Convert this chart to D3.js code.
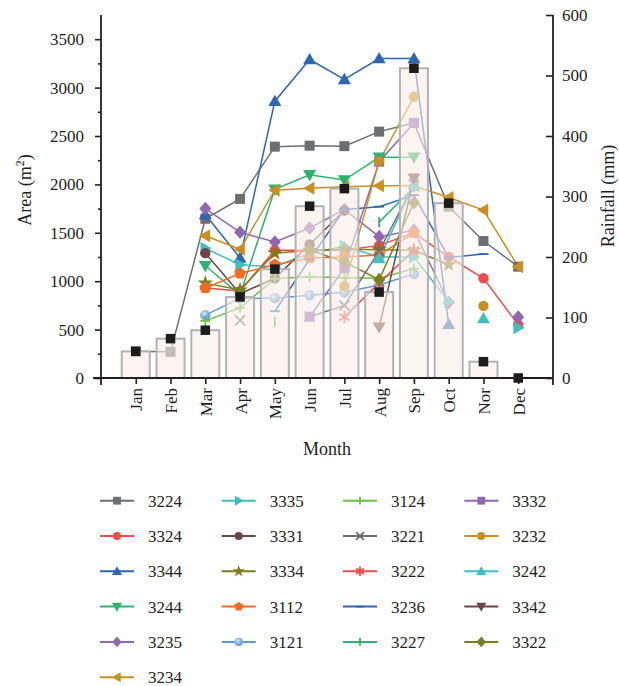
<!DOCTYPE html>
<html>
<head>
<meta charset="utf-8">
<script src="https://cdn.jsdelivr.net/npm/d3@7"></script>
<style>
  body { margin: 0; background: #fff; }
  svg text { font-family: "Liberation Serif", "DejaVu Serif", serif; fill: #231f20; }
</style>
</head>
<body>
<script>
// months on the x axis (the source labels November as "Nor")
const months = ["Jan", "Feb", "Mar", "Apr", "May", "Jun", "Jul", "Aug", "Sep", "Oct", "Nor", "Dec"];
const rainfall = [44, 65, 79, 134, 180, 284, 313, 142, 512, 289, 27, 0];

const areaTicks = [0, 500, 1000, 1500, 2000, 2500, 3000, 3500];
const rainTicks = [0, 100, 200, 300, 400, 500, 600];

// area values per pond, Jan..Dec (null = not recorded)
const s3224 = [275, 270, 1645, 1850, 2390, 2400, 2395, 2545, 2635, 1770, 1415, 1150];
const s3324 = [null, null, 930, 900, 1320, 1320, 1320, 1370, 1500, 1250, 1030, 550];
const s3344 = [null, null, 1690, 1240, 2860, 3290, 3085, 3300, 3300, 555, null, null];
const s3244 = [null, null, 1160, 860, 1950, 2100, 2045, 2280, 2280, null, null, null];
const s3235 = [null, null, 1750, 1505, 1405, 1550, 1740, 1460, 1525, 780, null, 630];
const s3234 = [null, null, 1470, 1330, 1940, 1960, 1975, 1985, 1985, 1865, 1735, 1150];
const s3335 = [null, null, 1340, 1170, 1150, 1290, 1360, 1250, 1250, 790, null, 520];
const s3331 = [null, null, 1290, 870, 1030, 1380, 1730, null, null, null, null, null];
const s3334 = [null, null, 980, 910, 1290, 1320, 1330, 1325, 1320, 1170, null, null];
const s3112 = [null, null, 930, 1080, 1170, 1240, 1250, 1270, 1500, null, null, null];
const s3121 = [null, null, 650, 825, 825, 855, 885, 960, 1075, null, null, null];
const s3124 = [null, null, 590, 725, 1025, 1045, 1035, 1030, 1130, null, null, null];
const s3221 = [null, null, null, 595, null, 633, 750, 1310, 2000, null, null, null];
const s3222 = [null, null, null, null, null, null, 630, 980, 1320, null, null, null];
const s3236 = [null, null, null, null, 690, 1225, 1740, 1770, 1890, 1245, 1280, null];
const s3227 = [null, null, null, null, 580, null, null, 1610, 1970, null, null, null];
const s3332 = [null, null, null, null, null, 633, 1135, 2235, 2635, null, null, null];
const s3232 = [null, null, null, null, null, null, 950, 2240, 2905, null, 745, null];
const s3242 = [null, null, null, null, null, null, null, 1236, 1995, null, 615, null];
const s3342 = [null, null, null, null, null, null, null, 525, 2062, null, null, null];
const s3322 = [null, null, null, null, null, 1320, 1200, 1015, 1810, null, null, null];

const C = {
  gray: "#6d6e70", red: "#ee4b4b", blue: "#2f66b3", green: "#2db36f",
  purple: "#9068b2", gold: "#c9901f", teal: "#3fbfbf", brown: "#6b4646",
  olive: "#7d7d1d", orange: "#f36b21", lblue: "#5b9bd5", lgreen: "#6cbe45"
};

// legend order (column by column)
const series = [
  {name: "3224", color: C.gray,   marker: "square",   values: s3224},
  {name: "3324", color: C.red,    marker: "circle",   values: s3324},
  {name: "3344", color: C.blue,   marker: "triUp",    values: s3344},
  {name: "3244", color: C.green,  marker: "triDown",  values: s3244},
  {name: "3235", color: C.purple, marker: "diamond",  values: s3235},
  {name: "3234", color: C.gold,   marker: "triLeft",  values: s3234},
  {name: "3335", color: C.teal,   marker: "triRight", values: s3335},
  {name: "3331", color: C.brown,  marker: "circle",   values: s3331},
  {name: "3334", color: C.olive,  marker: "star",     values: s3334},
  {name: "3112", color: C.orange, marker: "pentagon", values: s3112},
  {name: "3121", color: C.lblue,  marker: "ball",     values: s3121},
  {name: "3124", color: C.lgreen, marker: "plus",     values: s3124},
  {name: "3221", color: C.gray,   marker: "cross",    values: s3221},
  {name: "3222", color: C.red,    marker: "asterisk", values: s3222},
  {name: "3236", color: C.blue,   marker: "hbar",     values: s3236},
  {name: "3227", color: C.green,  marker: "vbar",     values: s3227},
  {name: "3332", color: C.purple, marker: "square",   values: s3332},
  {name: "3232", color: C.gold,   marker: "circle",   values: s3232},
  {name: "3242", color: C.teal,   marker: "triUp",    values: s3242},
  {name: "3342", color: C.brown,  marker: "triDown",  values: s3342},
  {name: "3322", color: C.olive,  marker: "diamond",  values: s3322}
];

const W = 619, H = 686;
const plotLeft = 101, plotRight = 553, plotTop = 15, plotBottom = 378;

const svg = d3.select("body").append("svg")
  .attr("width", W).attr("height", H);

const defs = svg.append("defs");
const grad = defs.append("radialGradient").attr("id", "ball")
  .attr("cx", "40%").attr("cy", "35%").attr("r", "65%");
grad.append("stop").attr("offset", "0%").attr("stop-color", "#e6f0fa");
grad.append("stop").attr("offset", "45%").attr("stop-color", "#8db8e3");
grad.append("stop").attr("offset", "100%").attr("stop-color", C.lblue);

const x = d3.scalePoint().domain(months).range([plotLeft, plotRight]).padding(1);
const yArea = d3.scaleLinear().domain([0, 3750]).range([plotBottom, plotTop]);
const yRain = d3.scaleLinear().domain([0, 600]).range([plotBottom, plotTop]);

const strokeMarkers = ["plus", "cross", "asterisk", "hbar", "vbar"];

function markerPath(type, k) {
  const s = 5 * k;
  switch (type) {
    case "square": return `M${-s},${-s}h${2*s}v${2*s}h${-2*s}Z`;
    case "circle":
    case "ball": return d3.symbol(d3.symbolCircle, Math.PI * (5.2*k) * (5.2*k))();
    case "triUp": return `M0,${-6.5*k}L${6.5*k},${4.8*k}L${-6.5*k},${4.8*k}Z`;
    case "triDown": return `M0,${6.5*k}L${6.5*k},${-4.8*k}L${-6.5*k},${-4.8*k}Z`;
    case "triLeft": return `M${-6.5*k},0L${4.8*k},${-6.5*k}L${4.8*k},${6.5*k}Z`;
    case "triRight": return `M${6.5*k},0L${-4.8*k},${-6.5*k}L${-4.8*k},${6.5*k}Z`;
    case "diamond": return `M0,${-6.8*k}L${6*k},0L0,${6.8*k}L${-6*k},0Z`;
    case "star": return d3.symbol(d3.symbolStar, 75 * k * k)();
    case "pentagon": {
      const r = 6.2 * k;
      const pts = d3.range(5).map(i => {
        const a = -Math.PI / 2 + i * 2 * Math.PI / 5;
        return [r * Math.cos(a), r * Math.sin(a)];
      });
      return "M" + pts.map(p => p.join(",")).join("L") + "Z";
    }
    case "plus": return `M${-s},0H${s}M0,${-s}V${s}`;
    case "cross": return `M${-s},${-s}L${s},${s}M${-s},${s}L${s},${-s}`;
    case "asterisk": return `M0,${-s*1.2}V${s*1.2}M${-s},${-s*0.7}L${s},${s*0.7}M${-s},${s*0.7}L${s},${-s*0.7}`;
    case "hbar": return `M${-s},0H${s}`;
    case "vbar": return `M0,${-s}V${s}`;
  }
}

function drawMarker(g, d, k) {
  const stroke = strokeMarkers.includes(d.marker);
  g.append("path")
    .attr("d", markerPath(d.marker, k))
    .attr("fill", stroke ? "none" : (d.marker === "ball" ? "url(#ball)" : d.color))
    .attr("stroke", stroke ? d.color : "none")
    .attr("stroke-width", stroke ? 1.8 : 0);
}

// series lines and markers
const line = d3.line()
  .defined(d => d.v != null)
  .x(d => x(d.m))
  .y(d => yArea(d.v));

const plot = svg.append("g").attr("class", "series");
series.forEach(s => {
  const pts = months.map((m, i) => ({m: m, v: s.values[i]}));
  plot.append("path")
    .datum(pts)
    .attr("d", line)
    .attr("fill", "none")
    .attr("stroke", s.color)
    .attr("stroke-width", 1.5);
});
series.forEach(s => {
  months.forEach((m, i) => {
    if (s.values[i] == null) return;
    const g = plot.append("g")
      .attr("transform", `translate(${x(m)},${yArea(s.values[i])})`);
    drawMarker(g, s, 1);
  });
});

// rainfall bars, laid over the lines
const barW = 28;
svg.append("g").attr("class", "bars")
  .selectAll("rect")
  .data(months.map((m, i) => ({m: m, v: rainfall[i]})).filter(d => d.v > 0))
  .enter().append("rect")
  .attr("x", d => x(d.m) - barW / 2)
  .attr("y", d => yRain(d.v))
  .attr("width", barW)
  .attr("height", d => plotBottom - yRain(d.v))
  .attr("fill", "#f8ede6")
  .attr("fill-opacity", 0.62)
  .attr("stroke", "#b3b3b3")
  .attr("stroke-width", 2);

// rainfall markers
svg.append("g").attr("class", "rain")
  .selectAll("path")
  .data(months.map((m, i) => ({m: m, v: rainfall[i]})))
  .enter().append("path")
  .attr("transform", d => `translate(${x(d.m)},${yRain(d.v)})`)
  .attr("d", markerPath("square", 0.95))
  .attr("fill", "#1c1c1c");

// axes
const axisColor = "#231f20";
function styleAxis(g) {
  g.select(".domain").remove();
  g.selectAll("line").attr("stroke", axisColor).attr("stroke-width", 1.6);
  g.selectAll("text").style("font-size", "17px").attr("fill", axisColor);
}

svg.append("g")
  .attr("transform", `translate(${plotLeft},0)`)
  .call(d3.axisLeft(yArea).tickValues(areaTicks).tickSize(6).tickPadding(11).tickFormat(d3.format("d")))
  .call(styleAxis);

svg.append("g")
  .attr("transform", `translate(${plotLeft},0)`)
  .call(d3.axisLeft(yArea).tickValues(d3.range(250, 3750, 500)).tickSize(3).tickFormat(""))
  .call(styleAxis);

svg.append("g")
  .attr("transform", `translate(${plotRight},0)`)
  .call(d3.axisRight(yRain).tickValues(rainTicks).tickSize(-7).tickPadding(9))
  .call(styleAxis);

const xAxis = svg.append("g")
  .attr("transform", `translate(0,${plotBottom})`)
  .call(d3.axisBottom(x).tickSize(6))
  .call(styleAxis);
xAxis.selectAll("text")
  .attr("y", 0).attr("x", 0).attr("dy", "0.35em")
  .attr("transform", "translate(0,10) rotate(-90)")
  .style("text-anchor", "end");

// axis lines
svg.append("line").attr("x1", plotLeft).attr("x2", plotLeft).attr("y1", plotTop).attr("y2", plotBottom + 7)
  .attr("stroke", axisColor).attr("stroke-width", 1.8);
svg.append("line").attr("x1", plotRight).attr("x2", plotRight).attr("y1", plotTop).attr("y2", plotBottom + 7)
  .attr("stroke", axisColor).attr("stroke-width", 1.8);
svg.append("line").attr("x1", plotLeft - 8).attr("x2", plotRight).attr("y1", plotBottom).attr("y2", plotBottom)
  .attr("stroke", axisColor).attr("stroke-width", 1.8);

// axis titles
const areaTitle = svg.append("text")
  .attr("transform", "translate(31,190) rotate(-90)")
  .attr("text-anchor", "middle")
  .style("font-size", "18px");
areaTitle.append("tspan").text("Area (m");
areaTitle.append("tspan").attr("dy", -7).style("font-size", "12px").text("2");
areaTitle.append("tspan").attr("dy", 7).text(")");

svg.append("text")
  .attr("transform", "translate(614,196) rotate(-90)")
  .attr("text-anchor", "middle")
  .style("font-size", "18px")
  .text("Rainfall (mm)");

svg.append("text")
  .attr("x", (plotLeft + plotRight) / 2).attr("y", 455)
  .attr("text-anchor", "middle")
  .style("font-size", "18px")
  .text("Month");

// legend
const colX = [100, 221.7, 343, 464.3];
const legend = svg.append("g").attr("class", "legend");
series.forEach((s, i) => {
  const col = i < 6 ? 0 : 1 + Math.floor((i - 6) / 5);
  const row = i < 6 ? i : (i - 6) % 5;
  const g = legend.append("g")
    .attr("transform", `translate(${colX[col]},${500.7 + row * 35.3})`);
  g.append("line").attr("x1", 0).attr("x2", 34)
    .attr("stroke", s.color).attr("stroke-width", 2);
  const mg = g.append("g").attr("transform", "translate(17,0)");
  drawMarker(mg, s, 0.78);
  g.append("text").attr("x", 48).attr("dy", "0.35em")
    .style("font-size", "17px").text(s.name);
});
</script>
</body>
</html>
